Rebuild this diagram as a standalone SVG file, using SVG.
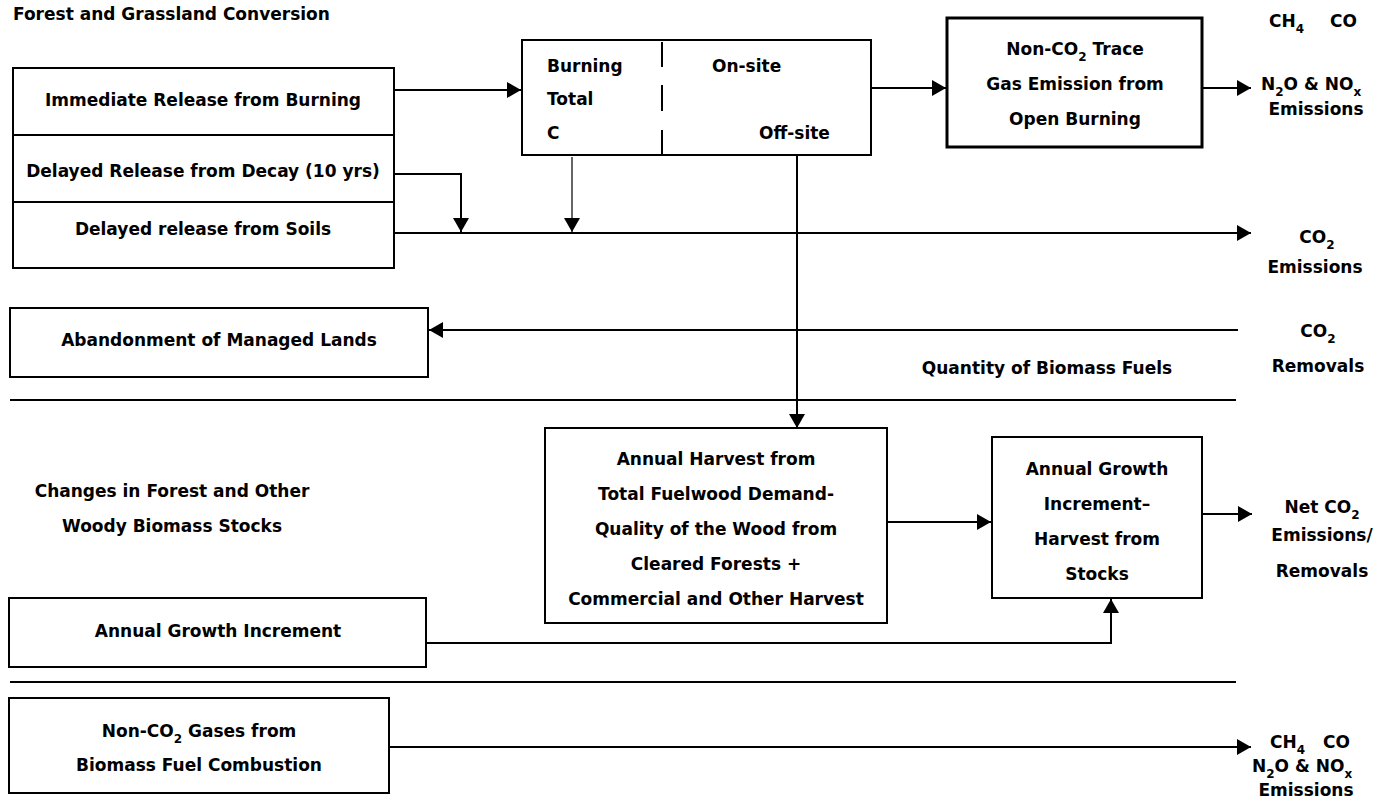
<svg xmlns="http://www.w3.org/2000/svg" width="1376" height="810" viewBox="0 0 1376 810">
<style>
text{font-family:"DejaVu Sans","Liberation Sans",sans-serif;font-weight:bold;font-size:17px;fill:#000}
.c{text-anchor:middle}
.sub{font-size:12px}
.box{fill:#fff;stroke:#000;stroke-width:2}
.thick{stroke-width:3}
.ln{fill:none;stroke:#000;stroke-width:2}
.thin{fill:none;stroke:#000;stroke-width:1.2}
</style>
<defs>
<marker id="ah" markerWidth="15" markerHeight="16" refX="14" refY="8" orient="auto" markerUnits="userSpaceOnUse"><path d="M0,0 L14,8 L0,16 z" fill="#000"/></marker>
</defs>
<rect width="1376" height="810" fill="#fff"/>

<g id="connectors">
<path class="ln" d="M394,90 H521" marker-end="url(#ah)"/>
<path class="ln" d="M394,174 H461 V232" marker-end="url(#ah)"/>
<path class="ln" d="M394,233 H1251" marker-end="url(#ah)"/>
<path class="thin" d="M572,157 V232" marker-end="url(#ah)"/>
<path class="ln" d="M797,155 V428" marker-end="url(#ah)"/>
<path class="ln" d="M871,88 H946" marker-end="url(#ah)"/>
<path class="ln" d="M1203,88 H1251" marker-end="url(#ah)"/>
<path class="ln" d="M1238,330 H429" marker-end="url(#ah)"/>
<path class="ln" d="M887,522 H991" marker-end="url(#ah)"/>
<path class="ln" d="M1202,514 H1252" marker-end="url(#ah)"/>
<path class="ln" d="M426,643 H1111 V599" marker-end="url(#ah)"/>
<path class="ln" d="M389,747 H1251" marker-end="url(#ah)"/>
<path class="ln" d="M10,400 H1236"/>
<path class="ln" d="M10,682 H1236"/>
</g>

<g id="title">
<text x="13" y="20">Forest and Grassland Conversion</text>
</g>

<g id="conversion-box">
<rect class="box" x="13" y="68" width="381" height="200"/>
<path class="ln" d="M13,135 H394 M13,202 H394"/>
<text class="c" x="203" y="106">Immediate Release from Burning</text>
<text class="c" x="203" y="177">Delayed Release from Decay (10 yrs)</text>
<text class="c" x="203" y="235">Delayed release from Soils</text>
</g>

<g id="burning-box">
<rect class="box" x="522" y="40" width="349" height="115"/>
<path class="ln" d="M662,42 V67 M662,85 V111 M662,130 V155"/>
<text x="547" y="72">Burning</text>
<text x="547" y="105">Total</text>
<text x="547" y="139">C</text>
<text x="712" y="72">On-site</text>
<text x="759" y="139">Off-site</text>
</g>

<g id="trace-gas-box">
<rect class="box thick" x="947" y="18" width="255" height="129"/>
<text class="c" x="1075" y="55">Non-CO<tspan class="sub" dy="6">2</tspan><tspan dy="-6"> Trace</tspan></text>
<text class="c" x="1075" y="90">Gas Emission from</text>
<text class="c" x="1075" y="125">Open Burning</text>
</g>

<g id="out-trace">
<text x="1269" y="27">CH<tspan class="sub" dy="6">4</tspan><tspan x="1330" dy="-6">CO</tspan></text>
<text x="1261" y="90">N<tspan class="sub" dy="6">2</tspan><tspan dy="-6">O &amp; NO</tspan><tspan class="sub" dy="6">x</tspan></text>
<text class="c" x="1316" y="115">Emissions</text>
</g>

<g id="out-co2-emissions">
<text class="c" x="1317" y="243">CO<tspan class="sub" dy="6">2</tspan></text>
<text class="c" x="1315" y="273">Emissions</text>
</g>

<g id="abandonment-box">
<rect class="box" x="10" y="308" width="418" height="69"/>
<text class="c" x="219" y="346">Abandonment of Managed Lands</text>
</g>

<g id="out-co2-removals">
<text class="c" x="1318" y="337">CO<tspan class="sub" dy="6">2</tspan></text>
<text class="c" x="1318" y="372">Removals</text>
</g>

<g id="biomass-fuels-label">
<text class="c" x="1047" y="374">Quantity of Biomass Fuels</text>
</g>

<g id="stocks-label">
<text class="c" x="172" y="497">Changes in Forest and Other</text>
<text class="c" x="172" y="532">Woody Biomass Stocks</text>
</g>

<g id="harvest-box">
<rect class="box" x="545" y="428" width="342" height="195"/>
<text class="c" x="716" y="465">Annual Harvest from</text>
<text class="c" x="716" y="500">Total Fuelwood Demand-</text>
<text class="c" x="716" y="535">Quality of the Wood from</text>
<text class="c" x="716" y="570">Cleared Forests  +</text>
<text class="c" x="716" y="605">Commercial and Other Harvest</text>
</g>

<g id="growth-harvest-box">
<rect class="box" x="992" y="437" width="210" height="161"/>
<text class="c" x="1097" y="475">Annual Growth</text>
<text class="c" x="1097" y="510">Increment–</text>
<text class="c" x="1097" y="545">Harvest from</text>
<text class="c" x="1097" y="580">Stocks</text>
</g>

<g id="out-net-co2">
<text class="c" x="1322" y="513">Net CO<tspan class="sub" dy="6">2</tspan></text>
<text class="c" x="1322" y="541">Emissions/</text>
<text class="c" x="1322" y="577">Removals</text>
</g>

<g id="growth-increment-box">
<rect class="box" x="9" y="598" width="417" height="69"/>
<text class="c" x="218" y="637">Annual Growth Increment</text>
</g>

<g id="combustion-box">
<rect class="box" x="9" y="698" width="380" height="95"/>
<text class="c" x="199" y="737">Non-CO<tspan class="sub" dy="6">2</tspan><tspan dy="-6"> Gases from</tspan></text>
<text class="c" x="199" y="771">Biomass Fuel Combustion</text>
</g>

<g id="out-combustion">
<text x="1270" y="748">CH<tspan class="sub" dy="6">4</tspan><tspan x="1323" dy="-6">CO</tspan></text>
<text x="1252" y="772">N<tspan class="sub" dy="6">2</tspan><tspan dy="-6">O &amp; NO</tspan><tspan class="sub" dy="6">x</tspan></text>
<text class="c" x="1306" y="796">Emissions</text>
</g>
</svg>
